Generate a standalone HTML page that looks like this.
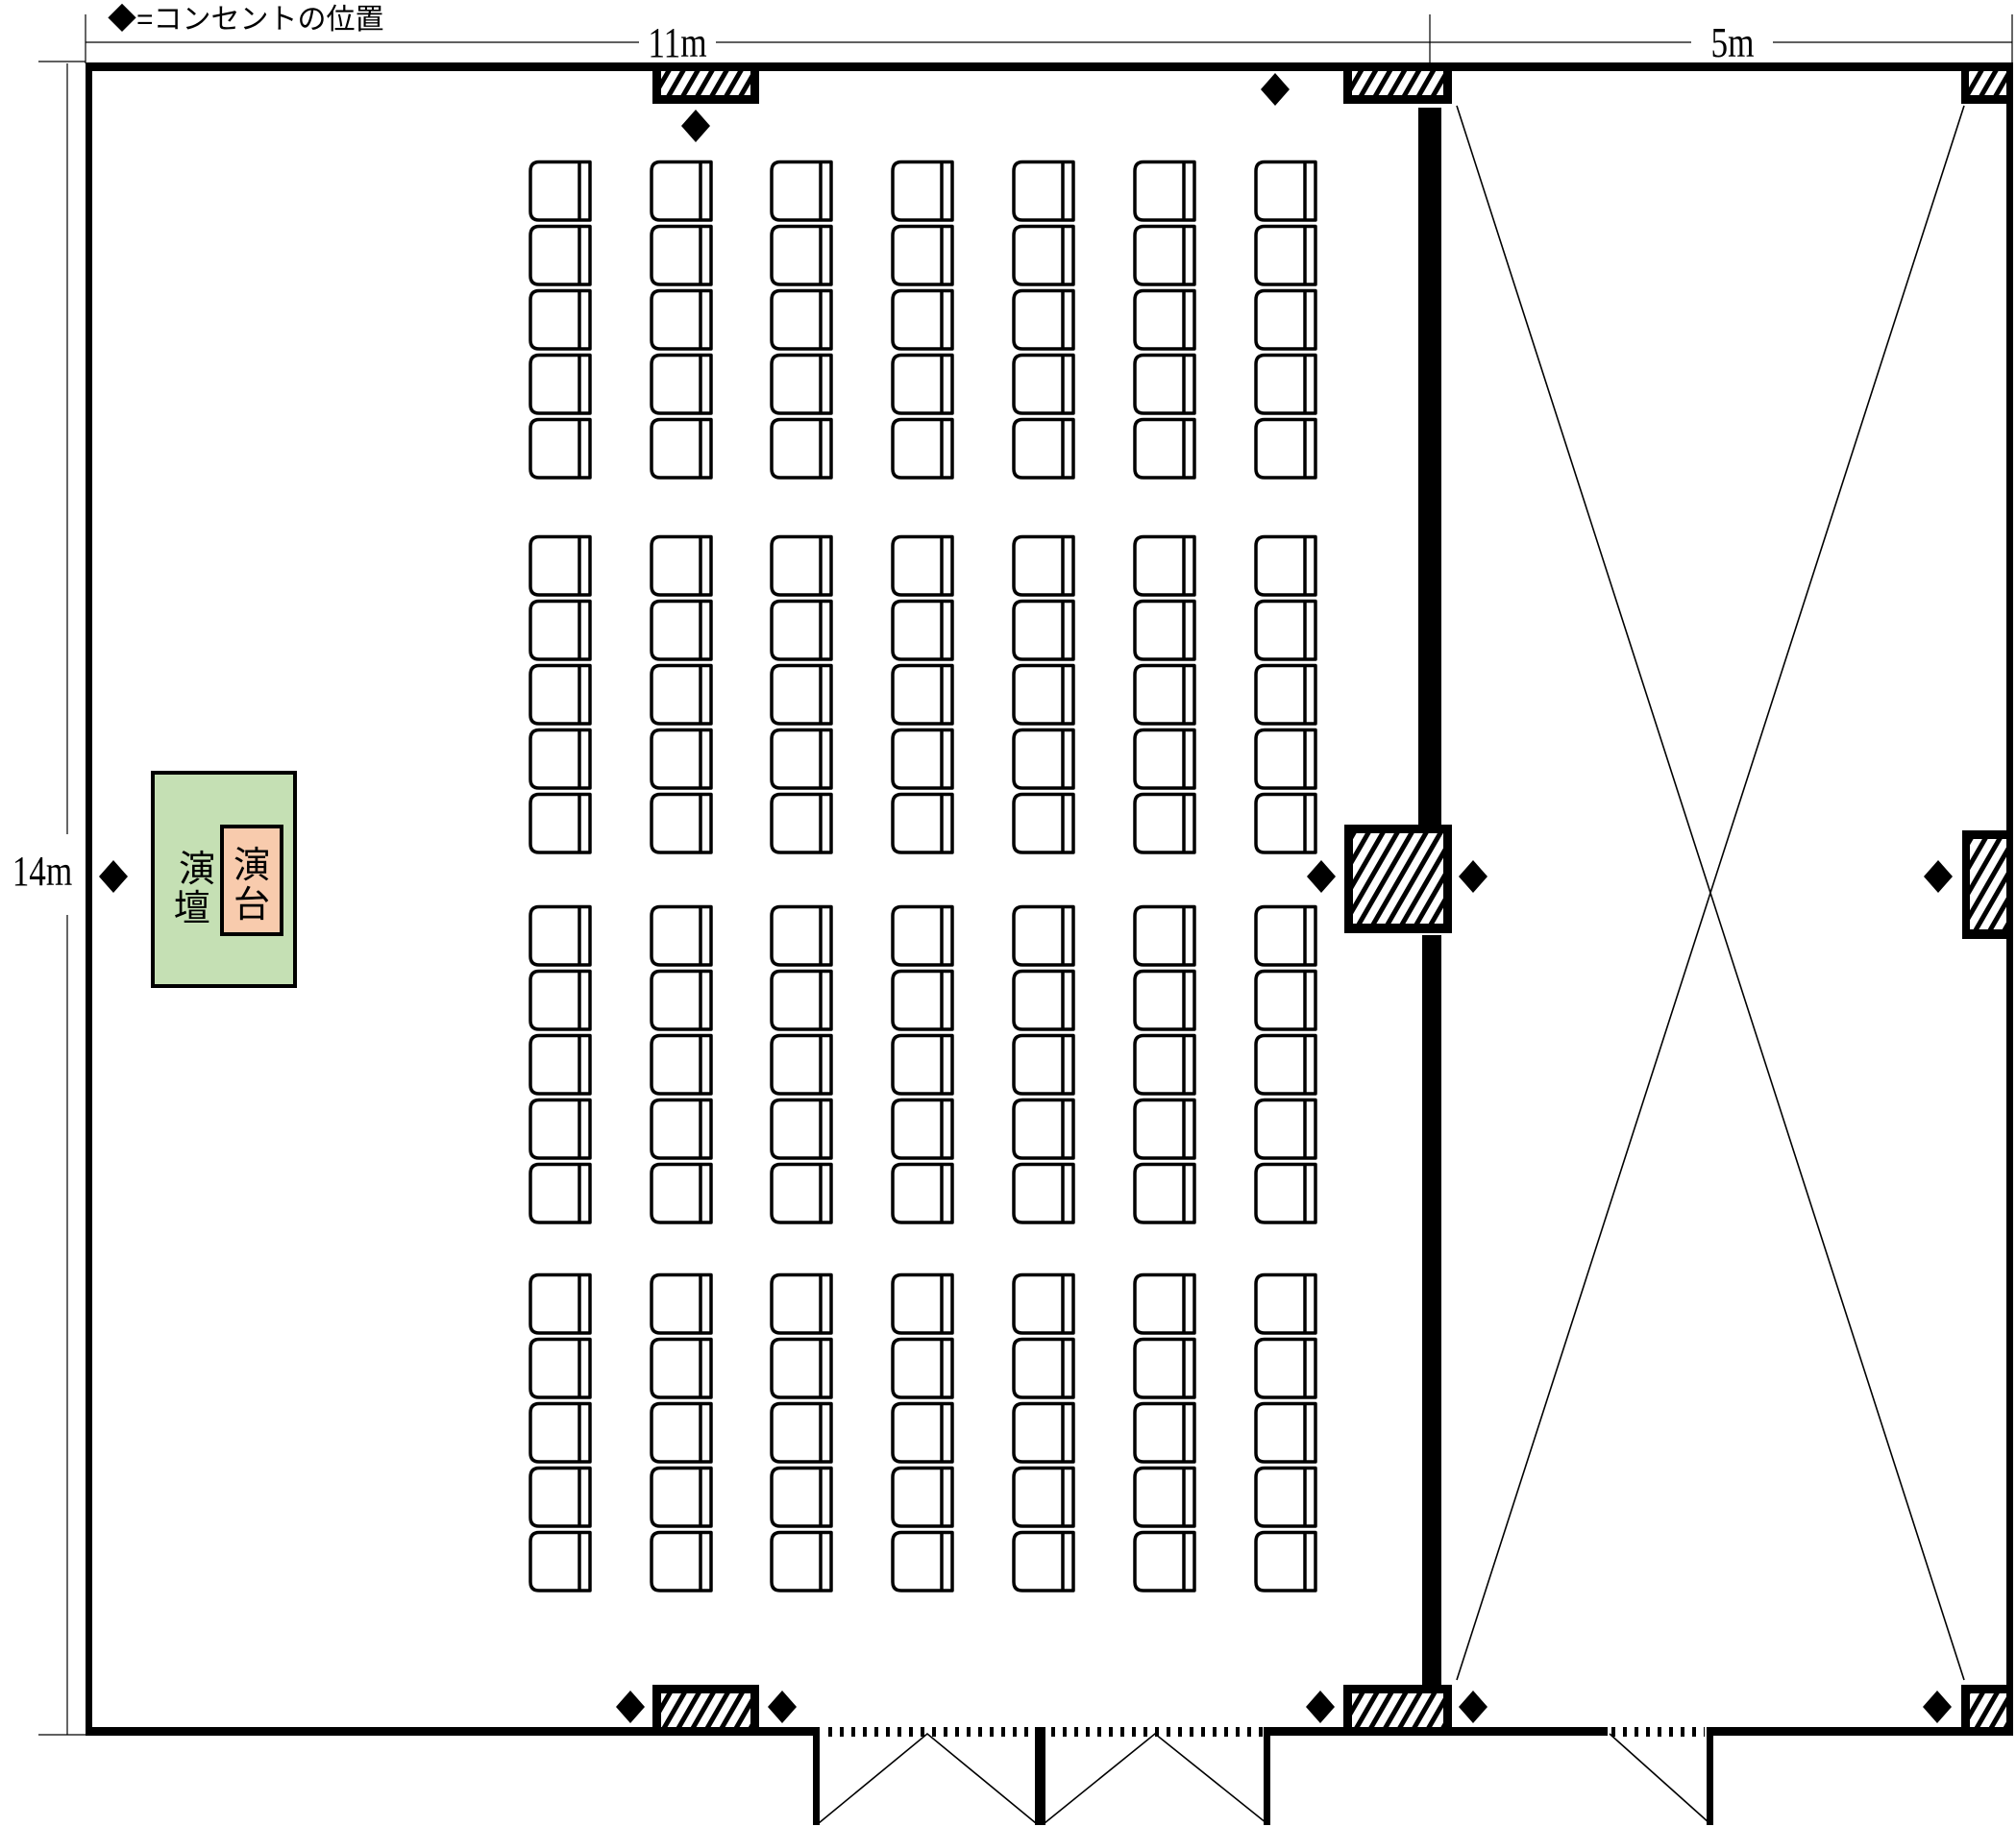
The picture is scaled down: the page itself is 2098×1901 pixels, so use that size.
<!DOCTYPE html>
<html><head><meta charset="utf-8"><style>
html,body{margin:0;padding:0;background:#fff;}
svg{display:block;}
</style></head><body>
<svg width="2098" height="1901" viewBox="0 0 2098 1901" xmlns="http://www.w3.org/2000/svg">
<defs>
<pattern id="h" patternUnits="userSpaceOnUse" width="13" height="13" patternTransform="rotate(30)">
<rect width="13" height="13" fill="#fff"/><rect width="5" height="13" fill="#000"/>
</pattern>
<g id="c">
<path d="M64,1.5 H11 Q2,1.5 2,11 V53 Q2,62 11,62 H64 Z" fill="#fff" stroke="#000" stroke-width="3.5" stroke-linejoin="round"/>
<line x1="53" y1="1.5" x2="53" y2="62" stroke="#000" stroke-width="3.5"/>
</g>
<g id="col">
<use href="#c" y="0"/><use href="#c" y="67"/><use href="#c" y="134"/><use href="#c" y="201"/><use href="#c" y="268"/>
</g>
<g id="blk">
<use href="#col" x="550"/><use href="#col" x="676"/><use href="#col" x="801"/><use href="#col" x="927"/><use href="#col" x="1053"/><use href="#col" x="1179"/><use href="#col" x="1305"/>
</g>
<path id="d" d="M0,-17 L15,0 L0,17 L-15,0 Z" fill="#000"/>
</defs>

<!-- dimension lines -->
<g stroke="#000" stroke-width="1.2" fill="none">
<line x1="89" y1="44" x2="665" y2="44"/><line x1="745" y1="44" x2="1760" y2="44"/><line x1="1845" y1="44" x2="2094" y2="44"/>
<line x1="89" y1="15" x2="89" y2="66"/><line x1="1488" y1="15" x2="1488" y2="66"/><line x1="2094" y1="15" x2="2094" y2="66"/>
<line x1="70" y1="66" x2="70" y2="868"/><line x1="70" y1="952" x2="70" y2="1805"/>
<line x1="40" y1="64" x2="89" y2="64"/><line x1="40" y1="1805" x2="89" y2="1805"/>
</g>
<text x="705" y="49" font-family="Liberation Serif, serif" font-size="44" text-anchor="middle" dominant-baseline="middle" transform="translate(705,0) scale(0.8,1) translate(-705,0)">11m</text>
<text x="1803" y="49" font-family="Liberation Serif, serif" font-size="44" text-anchor="middle" dominant-baseline="middle" transform="translate(1803,0) scale(0.8,1) translate(-1803,0)">5m</text>
<text x="44" y="911" font-family="Liberation Serif, serif" font-size="44" text-anchor="middle" dominant-baseline="middle" transform="translate(44,0) scale(0.8,1) translate(-44,0)">14m</text>
<text x="112" y="30" font-family="Liberation Sans, 'Noto Sans CJK JP', sans-serif" font-size="30">◆=コンセントの位置</text>

<!-- walls -->
<g fill="#000">
<rect x="89" y="65" width="2006" height="9"/>
<rect x="89" y="65" width="7" height="1741"/>
<rect x="2088" y="65" width="7" height="1741"/>
<rect x="89" y="1797" width="763" height="9"/>
<rect x="1318" y="1797" width="355" height="9"/>
<rect x="1779" y="1797" width="316" height="9"/>
<rect x="846" y="1797" width="7" height="102"/>
<rect x="1077" y="1797" width="11" height="102"/>
<rect x="1315" y="1797" width="7" height="102"/>
<rect x="1776" y="1797" width="7" height="102"/>
<rect x="1476" y="112" width="24" height="746"/>
<rect x="1480" y="973" width="20" height="780"/>
</g>
<!-- dotted openings -->
<g stroke="#000" stroke-width="10" stroke-dasharray="4 8">
<line x1="862" y1="1802" x2="1076" y2="1802"/>
<line x1="1094" y1="1802" x2="1314" y2="1802"/>
<line x1="1677" y1="1802" x2="1774" y2="1802"/>
</g>
<g stroke="#000" stroke-width="1.6" fill="none">
<polyline points="852,1897 965,1804 1078,1897"/>
<polyline points="1087,1897 1202,1804 1318,1897"/>
<line x1="1675" y1="1804" x2="1779" y2="1897"/>
<line x1="1516" y1="110" x2="2044" y2="1748"/>
<line x1="2044" y1="110" x2="1516" y2="1748"/>
</g>

<!-- pillars -->
<g>
<rect x="679" y="70" width="111" height="38" fill="#000"/><rect x="688" y="74" width="93" height="25" fill="url(#h)"/>
<rect x="1398" y="70" width="113" height="38" fill="#000"/><rect x="1407" y="74" width="95" height="25" fill="url(#h)"/>
<rect x="2041" y="70" width="54" height="38" fill="#000"/><rect x="2049" y="74" width="39" height="25" fill="url(#h)"/>
<rect x="1399" y="858" width="112" height="113" fill="#000"/><rect x="1408" y="867" width="94" height="94" fill="url(#h)"/>
<rect x="2042" y="864" width="53" height="113" fill="#000"/><rect x="2050" y="873" width="38" height="94" fill="url(#h)"/>
<rect x="679" y="1753" width="111" height="53" fill="#000"/><rect x="688" y="1762" width="93" height="35" fill="url(#h)"/>
<rect x="1398" y="1753" width="113" height="53" fill="#000"/><rect x="1407" y="1762" width="95" height="35" fill="url(#h)"/>
<rect x="2041" y="1753" width="54" height="53" fill="#000"/><rect x="2050" y="1762" width="38" height="35" fill="url(#h)"/>
</g>

<!-- diamonds -->
<use href="#d" x="724" y="131"/><use href="#d" x="1327" y="93"/>
<use href="#d" x="118" y="912"/><use href="#d" x="1375" y="912"/><use href="#d" x="1533" y="912"/><use href="#d" x="2017" y="912"/>
<use href="#d" x="656" y="1776"/><use href="#d" x="814" y="1776"/><use href="#d" x="1374" y="1776"/><use href="#d" x="1533" y="1776"/><use href="#d" x="2016" y="1776"/>

<!-- chairs -->
<use href="#blk" y="167"/>
<use href="#blk" y="557"/>
<use href="#blk" y="942"/>
<use href="#blk" y="1325"/>

<!-- stage -->
<rect x="159" y="804" width="148" height="222" fill="#c5e0b4" stroke="#000" stroke-width="4"/>
<rect x="231" y="860" width="62" height="112" fill="#f8cbad" stroke="#000" stroke-width="4"/>
<text font-family="Liberation Sans, 'Noto Sans CJK JP', sans-serif" font-size="38" text-anchor="middle">
<tspan x="205" y="917">演</tspan><tspan x="205" y="958">壇</tspan>
<tspan x="262" y="913">演</tspan><tspan x="262" y="954">台</tspan>
</text>
</svg>
</body></html>
